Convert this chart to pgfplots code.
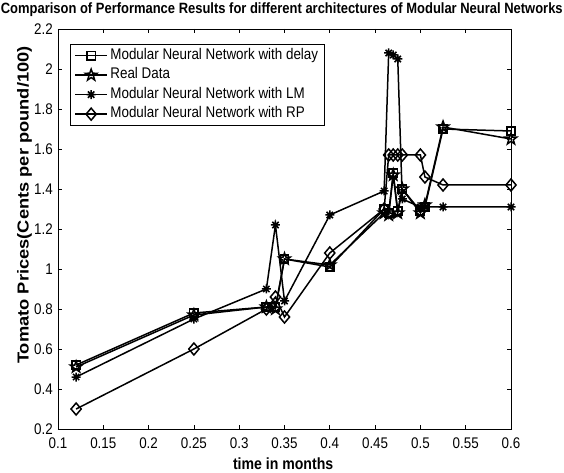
\documentclass[border=0pt]{standalone}
\usepackage{fontspec}
\setmainfont{Liberation Sans}[FakeStretch=0.87]
\newfontfamily\ylabfont{Liberation Sans}[FakeStretch=1.15]
\usepackage{pgfplots}
\pgfplotsset{compat=1.18}

\pgfdeclareplotmark{pentagram}{%
 \pgfpathmoveto{\pgfpointpolar{90}{\pgfplotmarksize}}%
 \pgfpathlineto{\pgfpointpolar{126}{0.40\pgfplotmarksize}}%
 \pgfpathlineto{\pgfpointpolar{162}{\pgfplotmarksize}}%
 \pgfpathlineto{\pgfpointpolar{198}{0.40\pgfplotmarksize}}%
 \pgfpathlineto{\pgfpointpolar{234}{\pgfplotmarksize}}%
 \pgfpathlineto{\pgfpointpolar{270}{0.40\pgfplotmarksize}}%
 \pgfpathlineto{\pgfpointpolar{306}{\pgfplotmarksize}}%
 \pgfpathlineto{\pgfpointpolar{342}{0.40\pgfplotmarksize}}%
 \pgfpathlineto{\pgfpointpolar{18}{\pgfplotmarksize}}%
 \pgfpathlineto{\pgfpointpolar{54}{0.40\pgfplotmarksize}}%
 \pgfpathclose
 \pgfusepathqstroke
}
\pgfdeclareplotmark{mstar}{%
 \pgfpathmoveto{\pgfqpoint{-\pgfplotmarksize}{0pt}}%
 \pgfpathlineto{\pgfqpoint{\pgfplotmarksize}{0pt}}%
 \pgfpathmoveto{\pgfqpoint{0pt}{-\pgfplotmarksize}}%
 \pgfpathlineto{\pgfqpoint{0pt}{\pgfplotmarksize}}%
 \pgfpathmoveto{\pgfpointpolar{45}{\pgfplotmarksize}}%
 \pgfpathlineto{\pgfpointpolar{225}{\pgfplotmarksize}}%
 \pgfpathmoveto{\pgfpointpolar{135}{\pgfplotmarksize}}%
 \pgfpathlineto{\pgfpointpolar{315}{\pgfplotmarksize}}%
 \pgfusepathqstroke
}
\pgfdeclareplotmark{mdiamond}{%
 \pgfpathmoveto{\pgfqpoint{0pt}{\pgfplotmarksize}}%
 \pgfpathlineto{\pgfqpoint{0.85\pgfplotmarksize}{0pt}}%
 \pgfpathlineto{\pgfqpoint{0pt}{-\pgfplotmarksize}}%
 \pgfpathlineto{\pgfqpoint{-0.85\pgfplotmarksize}{0pt}}%
 \pgfpathclose
 \pgfusepathqstroke
}

\begin{document}
\begin{tikzpicture}
\useasboundingbox (-58bp,-44bp) rectangle (506bp,429bp);
\begin{axis}[
  at={(0,0)}, anchor=south west,
  width=453bp, height=400bp, scale only axis,
  xmin=0.1, xmax=0.6, ymin=0.2, ymax=2.2,
  xtick={0.1,0.15,0.2,0.25,0.3,0.35,0.4,0.45,0.5,0.55,0.6},
  xticklabels={0.1,0.15,0.2,0.25,0.3,0.35,0.4,0.45,0.5,0.55,0.6},
  ytick={0.2,0.4,0.6,0.8,1,1.2,1.4,1.6,1.8,2,2.2},
  yticklabels={0.2,0.4,0.6,0.8,1,1.2,1.4,1.6,1.8,2,2.2},
  tick align=inside, major tick length=4bp,
  every tick/.style={black, line width=0.7bp},
  axis line style={line width=0.9bp},
  xtick pos=both, ytick pos=both,
  xticklabel style={font=\fontsize{15.4bp}{16bp}\selectfont, inner sep=0pt, anchor=north, yshift=-9bp},
  yticklabel style={font=\fontsize{15.4bp}{16bp}\selectfont, inner sep=0pt, anchor=east, xshift=-5bp},
  title={Comparison of Performance Results for different architectures of Modular Neural Networks},
  title style={font=\bfseries\fontsize{14.9bp}{16bp}\selectfont, inner sep=0pt, anchor=base, at={(rel axis cs:0.494,1)}, yshift=10bp},
  xlabel={time in months},
  xlabel style={font=\bfseries\fontsize{16.2bp}{17bp}\selectfont, inner sep=0pt, anchor=base, at={(rel axis cs:0.497,0)}, yshift=-40bp},
  legend cell align=left,
  legend style={at={(rel axis cs:0.0265,0.9625)}, anchor=north west, draw=black, line width=0.8bp,
    font=\fontsize{15.4bp}{16bp}\selectfont, inner xsep=4bp, inner ysep=1.5bp, row sep=0pt,
    nodes={inner sep=2.5bp, text height=11bp, text depth=3.5bp}},
  legend image code/.code={\draw[line width=1.5bp, mark repeat=2,mark phase=2] plot coordinates {(0bp,0bp)(16bp,0bp)(32bp,0bp)};},
  every axis plot/.append style={black, line width=1.5bp, mark options={solid}},
]
\addplot[mark=square, mark size=4.2bp] coordinates {
(0.12,0.52) (0.25,0.78) (0.33,0.81) (0.34,0.81) (0.35,1.05) (0.40,1.01)
(0.46,1.30) (0.465,1.28) (0.47,1.48) (0.475,1.29) (0.48,1.40) (0.50,1.29)
(0.505,1.31) (0.525,1.70) (0.60,1.69)};
\addlegendentry{Modular Neural Network with delay}
\addplot[mark=pentagram, mark size=6bp] coordinates {
(0.12,0.51) (0.25,0.77) (0.33,0.81) (0.34,0.80) (0.35,1.05) (0.40,1.02)
(0.46,1.28) (0.465,1.27) (0.47,1.47) (0.475,1.28) (0.48,1.40) (0.50,1.28)
(0.505,1.32) (0.525,1.71) (0.60,1.65)};
\addlegendentry{Real Data}
\addplot[mark=mstar, mark size=4.5bp] coordinates {
(0.12,0.46) (0.25,0.75) (0.33,0.90) (0.34,1.22) (0.35,0.84) (0.40,1.27)
(0.46,1.39) (0.465,2.08) (0.47,2.07) (0.475,2.05) (0.48,1.35) (0.50,1.31)
(0.505,1.31) (0.525,1.31) (0.60,1.31)};
\addlegendentry{Modular Neural Network with LM}
\addplot[mark=mdiamond, mark size=6bp] coordinates {
(0.12,0.30) (0.25,0.60) (0.33,0.80) (0.34,0.86) (0.35,0.76) (0.40,1.08)
(0.46,1.30) (0.465,1.57) (0.47,1.57) (0.475,1.57) (0.48,1.57) (0.50,1.57)
(0.505,1.46) (0.525,1.42) (0.60,1.42)};
\addlegendentry{Modular Neural Network with RP}
\end{axis}
\node[rotate=90, inner sep=0pt, anchor=center, font=\ylabfont\bfseries\fontsize{15.9bp}{17bp}\selectfont]
  at (-33.5bp,224bp) {Tomato Prices(Cents per pound/100)};
\end{tikzpicture}
\end{document}
